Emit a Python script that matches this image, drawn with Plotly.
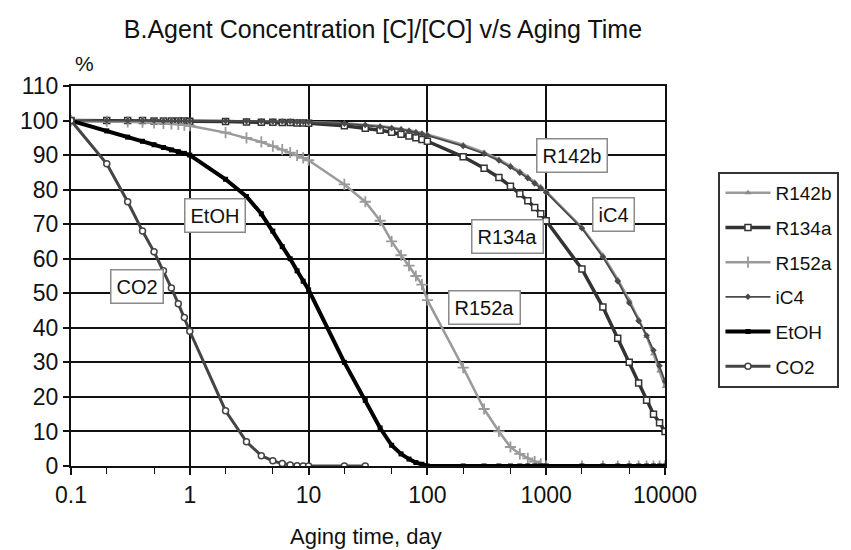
import plotly.graph_objects as go

# ---- data ----
T = [0.1, 0.2, 0.3, 0.4, 0.5, 0.6, 0.7, 0.8, 0.9,
     1, 2, 3, 4, 5, 6, 7, 8, 9,
     10, 20, 30, 40, 50, 60, 70, 80, 90,
     100, 200, 300, 400, 500, 600, 700, 800, 900,
     1000, 2000, 3000, 4000, 5000, 6000, 7000, 8000, 9000, 10000]

R142b = [100, 100, 100, 100, 100, 99.9, 99.9, 99.9, 99.9,
         99.9, 99.9, 99.8, 99.8, 99.8, 99.7, 99.7, 99.7, 99.6,
         99.6, 99.2, 98.8, 98.4, 98.0, 97.6, 97.2, 96.8, 96.4,
         96.0, 93.0, 90.8, 88.8, 87.0, 85.3, 83.7, 82.2, 80.8,
         79.5, 69.0, 61.0, 54.0, 48.0, 42.5, 37.5, 32.5, 27.5, 23.0]

R134a = [100, 100, 100, 100, 99.9, 99.9, 99.9, 99.9, 99.9,
         99.8, 99.7, 99.6, 99.5, 99.5, 99.4, 99.4, 99.3, 99.3,
         99.2, 98.5, 97.8, 97.2, 96.6, 96.0, 95.5, 95.0, 94.5,
         94.0, 89.5, 86.2, 83.5, 81.0, 78.8, 76.8, 74.8, 73.0,
         71.0, 57.0, 46.0, 37.0, 30.0, 24.0, 19.0, 15.0, 12.5, 10.0]

R152a = [100, 99.8, 99.6, 99.5, 99.3, 99.2, 99.0, 98.9, 98.7,
         98.5, 96.5, 95.0, 93.8, 92.6, 91.6, 90.7, 89.9, 89.2,
         88.5, 81.5, 76.5, 71.0, 65.0, 61.0, 58.0, 55.0, 52.5,
         48.0, 28.5, 16.5, 10.0, 5.5, 3.5, 2.2, 1.3, 0.6,
         0, 0, 0, 0, 0, 0, 0, 0, 0, 0]

iC4 = [100, 100, 100, 100, 100, 99.9, 99.9, 99.9, 99.9,
       99.9, 99.9, 99.8, 99.8, 99.7, 99.7, 99.7, 99.6, 99.6,
       99.5, 99.1, 98.7, 98.2, 97.8, 97.4, 97.0, 96.5, 96.1,
       95.7, 92.6, 90.4, 88.4, 86.6, 84.9, 83.3, 81.8, 80.4,
       79.2, 68.8, 60.5, 53.5, 47.2, 42.0, 37.8, 33.5, 29.0, 24.5]

EtOH = [100, 97.0, 95.2, 94.0, 93.0, 92.2, 91.5, 91.0, 90.5,
        90.0, 83.0, 78.0, 73.0, 68.0, 63.5, 60.0, 56.5, 53.5,
        51.0, 30.0, 19.0, 11.0, 6.0, 3.5, 2.0, 1.0, 0.5,
        0, 0, 0, 0, 0, 0, 0, 0, 0,
        0, 0, 0, 0, 0, 0, 0, 0, 0, 0]

T_CO2 = [0.1, 0.2, 0.3, 0.4, 0.5, 0.6, 0.7, 0.8, 0.9,
         1, 2, 3, 4, 5, 6, 7, 8, 9, 10, 20, 30]
CO2 = [100, 87.5, 76.5, 68.0, 62.0, 56.5, 51.5, 47.0, 43.0,
       39.0, 16.0, 7.0, 3.0, 1.5, 0.7, 0.3, 0.1, 0, 0, 0, 0]

x_ticks = [0.1, 1, 10, 100, 1000, 10000]
x_ticklabels = ["0.1", "1", "10", "100", "1000", "10000"]
y_ticks = list(range(0, 111, 10))

# label boxes: (text, log10 x, y)
labels = [("R142b", 3.216, 90.0), ("iC4", 3.564, 72.7), ("R134a", 2.672, 66.3),
          ("R152a", 2.477, 45.8), ("EtOH", 0.216, 72.4), ("CO2", -0.448, 51.9)]

FONT = "Liberation Sans, Arial, sans-serif"
GRID = "#111111"

fig = go.Figure()

fig.add_trace(go.Scatter(x=T, y=R142b, name="R142b", mode="lines+markers", legendgroup="a",
                         line=dict(color="#9a9a9a", width=2.5),
                         marker=dict(symbol="triangle-up", size=6, color="#8a8a8a")))
fig.add_trace(go.Scatter(x=T, y=R134a, name="R134a", mode="lines+markers", legendgroup="b",
                         line=dict(color="#333333", width=3.5),
                         marker=dict(symbol="square", size=6, color="white",
                                     line=dict(color="#333333", width=1.5))))
fig.add_trace(go.Scatter(x=T, y=R152a, name="R152a", mode="lines+markers", legendgroup="c",
                         line=dict(color="#9a9a9a", width=2.5),
                         marker=dict(symbol="cross-thin-open", size=8,
                                     line=dict(color="#2a2a2a", width=1.8))))
fig.add_trace(go.Scatter(x=T, y=iC4, name="iC4", mode="lines+markers", legendgroup="d",
                         line=dict(color="#4a4a4a", width=1.8),
                         marker=dict(symbol="diamond", size=5, color="#4a4a4a")))
fig.add_trace(go.Scatter(x=T, y=EtOH, name="EtOH", mode="lines+markers", legendgroup="e",
                         line=dict(color="#000000", width=4),
                         marker=dict(symbol="square", size=5, color="#000000")))
fig.add_trace(go.Scatter(x=T_CO2, y=CO2, name="CO2", mode="lines+markers", legendgroup="f",
                         line=dict(color="#444444", width=3),
                         marker=dict(symbol="circle", size=6, color="white",
                                     line=dict(color="#444444", width=1.5))))

for txt, lx, ly in labels:
    fig.add_annotation(x=lx, y=ly, xref="x", yref="y", text=txt, showarrow=False,
                       font=dict(family=FONT, size=20, color="#111"),
                       bgcolor="white", bordercolor="#8a8a8a", borderwidth=1.5, borderpad=5)

fig.add_annotation(x=0.023, y=1.059, xref="paper", yref="paper", text="%", showarrow=False,
                   font=dict(family=FONT, size=21, color="#111"), xanchor="center", yanchor="middle")
fig.add_annotation(x=0.497, y=-0.185, xref="paper", yref="paper", text="Aging time, day",
                   showarrow=False, font=dict(family=FONT, size=22, color="#111"),
                   xanchor="center", yanchor="middle")

fig.update_layout(
    width=851, height=550,
    margin=dict(l=71, r=178, t=86, b=84),
    paper_bgcolor="white", plot_bgcolor="white",
    font=dict(family=FONT, color="#111"),
    title=dict(text="B.Agent Concentration [C]/[CO] v/s Aging Time",
               x=0.45, xanchor="center", y=0.947, yanchor="middle",
               font=dict(family=FONT, size=25, color="#111")),
    showlegend=True,
    legend=dict(x=1.09, y=0.774, xanchor="left", yanchor="top",
                bgcolor="white", bordercolor="#333", borderwidth=2,
                font=dict(family=FONT, size=19, color="#111"),
                tracegroupgap=7, itemwidth=45),
    xaxis=dict(type="log", range=[-1, 4], tickvals=x_ticks, ticktext=x_ticklabels,
               showgrid=True, gridcolor=GRID, gridwidth=2.2,
               showline=True, linecolor=GRID, linewidth=2.2, mirror=True,
               ticks="outside", ticklen=7, tickwidth=1.8, tickcolor=GRID,
               tickfont=dict(family=FONT, size=23, color="#111"),
               minor=dict(ticks="outside", ticklen=6, tickwidth=1.4, tickcolor=GRID,
                          showgrid=False),
               zeroline=False),
    yaxis=dict(range=[0, 110], tickvals=y_ticks,
               showgrid=True, gridcolor=GRID, gridwidth=2.2,
               showline=True, linecolor=GRID, linewidth=2.2, mirror=True,
               ticks="outside", ticklen=6, tickwidth=1.8, tickcolor=GRID,
               tickfont=dict(family=FONT, size=23, color="#111"),
               zeroline=False),
)

fig.write_html("out.html")
